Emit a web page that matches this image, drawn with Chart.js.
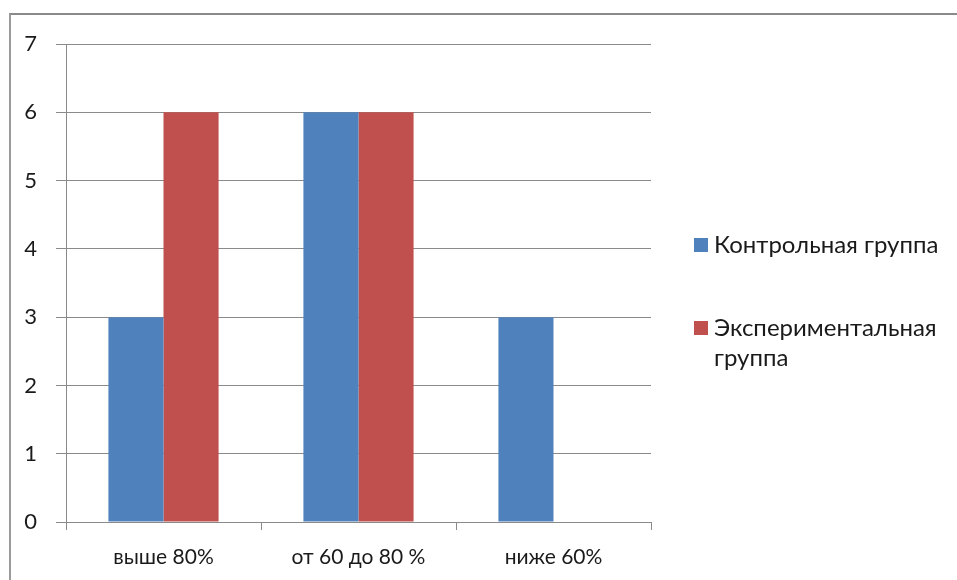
<!DOCTYPE html>
<html>
<head>
<meta charset="utf-8">
<script src="https://cdn.jsdelivr.net/npm/chart.js@4/dist/chart.umd.min.js"></script>
<style>
  html, body { margin: 0; padding: 0; background: #fff; overflow: hidden; }
  #wrap { position: relative; width: 957px; height: 580px; }
  #frame { position: absolute; left: 9px; top: 13px; width: 1000px; height: 700px;
           border-top: 2px solid #8a8a8a; border-left: 2px solid #9a9a9a; box-sizing: border-box; }
  canvas { position: absolute; left: 0; top: 0; }
</style>
</head>
<body>
<div id="wrap">
  <div id="frame"></div>
  <canvas id="c" width="957" height="580"></canvas>
</div>
<script>
const categories = ["выше 80%", "от 60 до 80 %", "ниже 60%"];
const controlValues = [3, 6, 3];
const experimentValues = [6, 6, 0];
const seriesLabels = [["Контрольная группа"], ["Экспериментальная", "группа"]];
const yTicks = [0, 1, 2, 3, 4, 5, 6, 7];

const FONT = "Lato, 'Open Sans', sans-serif";

const legendPlugin = {
  id: 'sideLegend',
  afterDraw(chart) {
    const ctx = chart.ctx;
    const ys = [245, 328];
    ctx.save();
    ctx.font = "24px " + FONT;
    ctx.textBaseline = 'middle';
    ctx.textAlign = 'left';
    chart.data.datasets.forEach((ds, i) => {
      const y = ys[i];
      ctx.fillStyle = ds.backgroundColor;
      ctx.fillRect(694, y - 7, 14, 14);
      ctx.fillStyle = '#1a1a1a';
      seriesLabels[i].forEach((line, j) => {
        ctx.fillText(line, 714, y + j * 30);
      });
    });
    ctx.restore();
  }
};

new Chart(document.getElementById('c'), {
  type: 'bar',
  data: {
    labels: categories,
    datasets: [
      { label: seriesLabels[0].join(' '), data: controlValues, backgroundColor: '#4F81BD' },
      { label: seriesLabels[1].join(' '), data: experimentValues, backgroundColor: '#C0504D' }
    ]
  },
  options: {
    responsive: false,
    animation: false,
    devicePixelRatio: 1,
    layout: { padding: { top: 44, right: 306, left: 0, bottom: 0 } },
    plugins: { legend: { display: false }, tooltip: { enabled: false } },
    datasets: { bar: { categoryPercentage: 0.565, barPercentage: 1.0 } },
    scales: {
      x: {
        offset: true,
        grid: { offset: true, drawOnChartArea: false, drawTicks: true, tickLength: 8, color: '#8a8a8a' },
        border: { color: '#8a8a8a' },
        ticks: { color: '#1a1a1a', font: { size: 21, family: FONT }, padding: 15 },
        afterFit(scale) { scale.height = 58; }
      },
      y: {
        min: 0, max: 7,
        afterBuildTicks(scale) { scale.ticks = yTicks.map(v => ({ value: v })); },
        grid: { color: '#8a8a8a', drawTicks: true, tickLength: 10 },
        border: { color: '#8a8a8a' },
        ticks: { color: '#1a1a1a', font: { size: 22, family: FONT }, padding: 19 },
        afterFit(scale) { scale.width = 66; }
      }
    }
  },
  plugins: [legendPlugin]
});
</script>
</body>
</html>
